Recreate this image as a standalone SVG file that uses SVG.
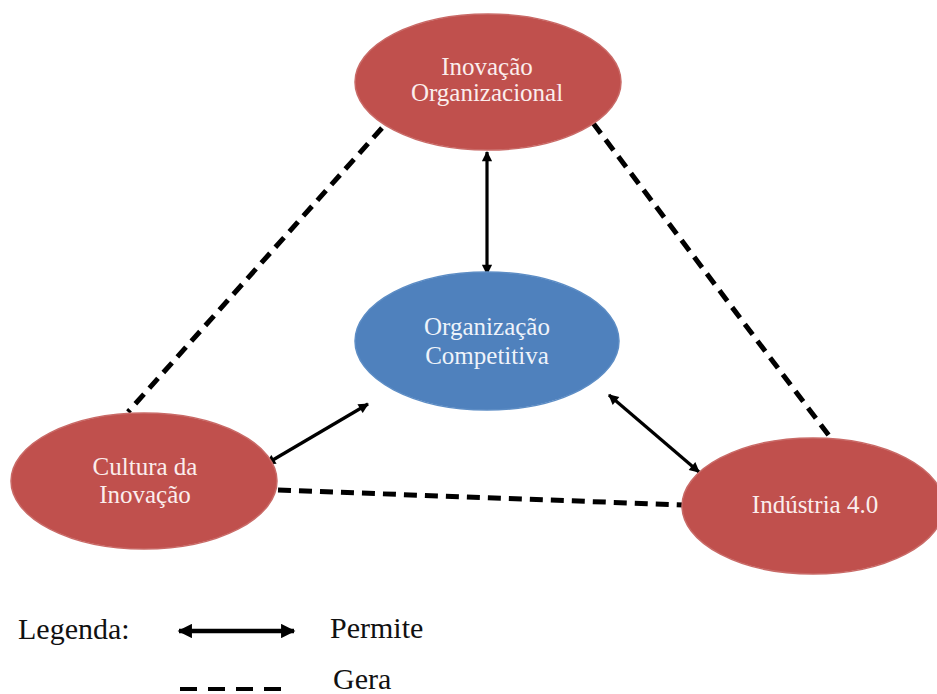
<svg xmlns="http://www.w3.org/2000/svg" width="937" height="694" viewBox="0 0 937 694">
<defs>
<marker id="ah" viewBox="0 0 10 10" refX="9" refY="5" markerWidth="3.8" markerHeight="3.2" orient="auto-start-reverse" markerUnits="strokeWidth">
<path d="M0,0 L10,5 L0,10 Z" fill="#000"/>
</marker>
<marker id="ahL" viewBox="0 0 10 10" refX="9" refY="5" markerWidth="3.8" markerHeight="3.2" orient="auto-start-reverse" markerUnits="strokeWidth">
<path d="M0,0 L10,5 L0,10 Z" fill="#000"/>
</marker>
</defs>
<style>
.red{fill:#C0504D;stroke:#C96A67;stroke-width:1.5}
.blue{fill:#4F81BD;stroke:#5D8DC5;stroke-width:1.5}
.nt{font-family:'Liberation Serif','Times New Roman',serif;font-size:25px;fill:#FBEDEC;text-anchor:middle}
.bt{fill:#EEF3FA}
.dash{stroke:#000;stroke-width:5;stroke-dasharray:13 8;fill:none}
.arr{stroke:#000;stroke-width:3.2;fill:none;marker-start:url(#ah);marker-end:url(#ah)}
.lg{font-family:'Liberation Serif','Times New Roman',serif;font-size:30px;fill:#111}
</style>
<rect width="937" height="694" fill="#fff"/>
<g id="connectors">
<line class="dash" x1="382" y1="128" x2="128" y2="412"/>
<line class="dash" x1="593" y1="123" x2="830" y2="437"/>
<line class="dash" x1="278" y1="490" x2="684" y2="505"/>
<line class="arr" x1="487" y1="152" x2="487" y2="274"/>
<line class="arr" x1="266" y1="464" x2="368" y2="404"/>
<line class="arr" x1="609" y1="395" x2="699" y2="472"/>
</g>
<g id="inovacao-organizacional">
<ellipse class="red" cx="488" cy="82" rx="133" ry="68"/>
<text class="nt" x="487" y="75">Inovação</text>
<text class="nt" x="487" y="101">Organizacional</text>
</g>
<g id="organizacao-competitiva">
<ellipse class="blue" cx="487" cy="341" rx="132" ry="69"/>
<text class="nt bt" x="487" y="335">Organização</text>
<text class="nt bt" x="487" y="364">Competitiva</text>
</g>
<g id="cultura-inovacao">
<ellipse class="red" cx="144" cy="481" rx="133" ry="68"/>
<text class="nt" x="145" y="475">Cultura da</text>
<text class="nt" x="145" y="503">Inovação</text>
</g>
<g id="industria">
<ellipse class="red" cx="813" cy="506" rx="131" ry="68"/>
<text class="nt" x="815" y="513">Indústria 4.0</text>
</g>
<g id="legenda">
<text class="lg" x="18" y="639">Legenda:</text>
<line x1="179" y1="631" x2="294" y2="631" stroke="#000" stroke-width="4.5" marker-start="url(#ahL)" marker-end="url(#ahL)"/>
<text class="lg" x="330" y="638">Permite</text>
<line x1="180" y1="689" x2="281" y2="689" stroke="#000" stroke-width="4" stroke-dasharray="17 11"/>
<text class="lg" x="333" y="689">Gera</text>
</g>
</svg>
